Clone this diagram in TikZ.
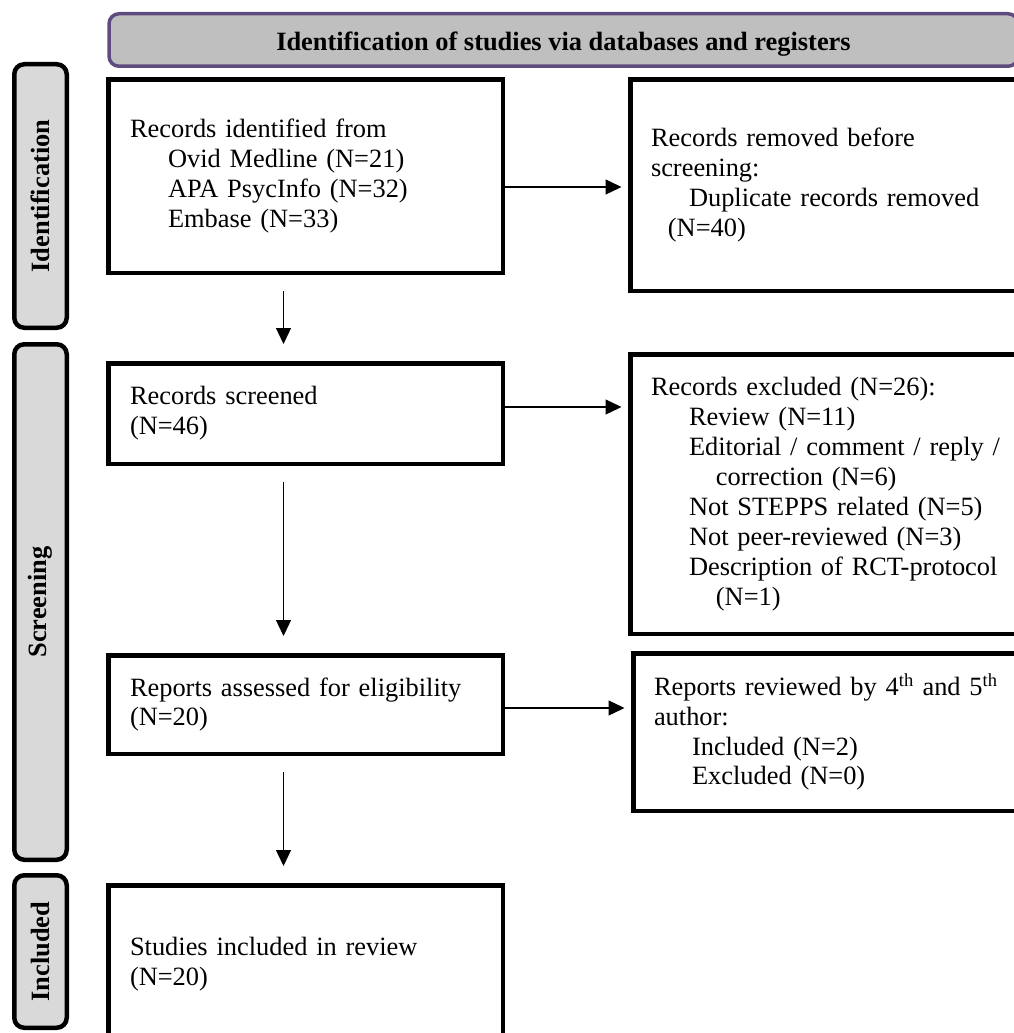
\documentclass[tikz,border=0pt]{standalone}
\usepackage{fontspec}
\setmainfont{Liberation Serif}
\usetikzlibrary{arrows.meta}

\definecolor{headerline}{HTML}{5F4B7D}
\definecolor{headerfill}{HTML}{BFBFBF}
\definecolor{stagefill}{HTML}{D9D9D9}
\newcommand{\subline}{\hspace*{1.44em}}
\newcommand{\subsubline}{\hspace*{2.46em}}

\begin{document}
\begin{tikzpicture}[
  x=1pt,
  y=-1pt,
  >={Triangle[length=16pt, width=15pt]},
  font=\fontsize{26.4}{29.9}\selectfont,
  header/.style={draw=headerline, line width=3.5pt, fill=headerfill,
    rounded corners=10pt, font=\fontsize{26.4}{29.9}\selectfont\bfseries,
    inner sep=0pt, text height=22pt, text depth=0pt,
    minimum width=909pt, minimum height=52.5pt},
  stage/.style={draw, line width=4.5pt, fill=stagefill, rounded corners=10pt,
    rotate=90, font=\fontsize{26.4}{29.9}\selectfont\bfseries,
    inner sep=0pt, minimum height=52.5pt},
  box/.style={draw, line width=4.5pt, align=left, inner xsep=21.75pt,
    inner ysep=0pt, text width=351pt},
  sidebox/.style={box, inner xsep=20.75pt, text width=366pt},
  arrow/.style={->, line width=1.3pt, shorten <=16pt, shorten >=17pt},
  sidearrow/.style={->, line width=1.3pt, shorten >=6.5pt}
]
  \useasboundingbox (0,0) rectangle (1014,1033);

  % Header and the three phase labels down the left side.
  \node[header] at (563.5,40)                       (head)   {Identification of studies via databases and registers};
  \node[stage, minimum width=263.5pt] at (40.5,196)  (ident)  {Identification};
  \node[stage, minimum width=515.5pt] at (40.5,602)  (screen) {Screening};
  \node[stage, minimum width=152.5pt] at (40.5,951.5)(incl)   {Included};

  % Main flow of records.
  \node[box, minimum height=193.5pt] at (305.5,176)   (found) {
    Records identified from\\
    \subline Ovid Medline (N=21)\\
    \subline APA PsycInfo (N=32)\\
    \subline Embase (N=33)};
  \node[box, minimum height=100.5pt] at (305.5,413.5) (screened) {Records screened\\(N=46)};
  \node[box, minimum height=98.5pt] at (305.5,704.5)  (assessed) {Reports assessed for eligibility\\(N=20)};
  \node[box, minimum height=157.5pt] at (305.5,964)   (studies)  {Studies included in review\\(N=20)};

  \draw[arrow] ([xshift=-22pt]found.south)    -- ([xshift=-22pt]screened.north);
  \draw[arrow] ([xshift=-22pt]screened.south) -- ([xshift=-22pt]assessed.north);
  \draw[arrow] ([xshift=-22pt]assessed.south) -- ([xshift=-22pt]studies.north);

  % Records taken out at each step.
  \node[sidebox, minimum height=211.5pt] at (834,185) (removed) {
    Records removed before\\
    screening:\\
    \subline Duplicate records removed\\
    \hspace*{0.64em}(N=40)};
  \node[sidebox, minimum height=279.5pt] at (834,494) (excluded) {
    Records excluded (N=26):\\
    \subline Review (N=11)\\
    \subline Editorial / comment / reply /\\
    \subsubline correction (N=6)\\
    \subline Not STEPPS related (N=5)\\
    \subline Not peer-reviewed (N=3)\\
    \subline Description of RCT-protocol\\
    \subsubline (N=1)};
  \node[sidebox, minimum height=157.5pt] at (837,732) (reviewed) {
    Reports reviewed by 4\textsuperscript{th} and 5\textsuperscript{th}\\
    author:\\
    \subline Included (N=2)\\
    \subline Excluded (N=0)};

  \draw[sidearrow] ([yshift=-11pt]found.east)   -- ([yshift=-11pt]found.east -| removed.west);
  \draw[sidearrow] ([yshift=6.5pt]screened.east) -- ([yshift=6.5pt]screened.east -| excluded.west);
  \draw[sidearrow] ([yshift=-3.5pt]assessed.east) -- ([yshift=-3.5pt]assessed.east -| reviewed.west);

\end{tikzpicture}
\end{document}
